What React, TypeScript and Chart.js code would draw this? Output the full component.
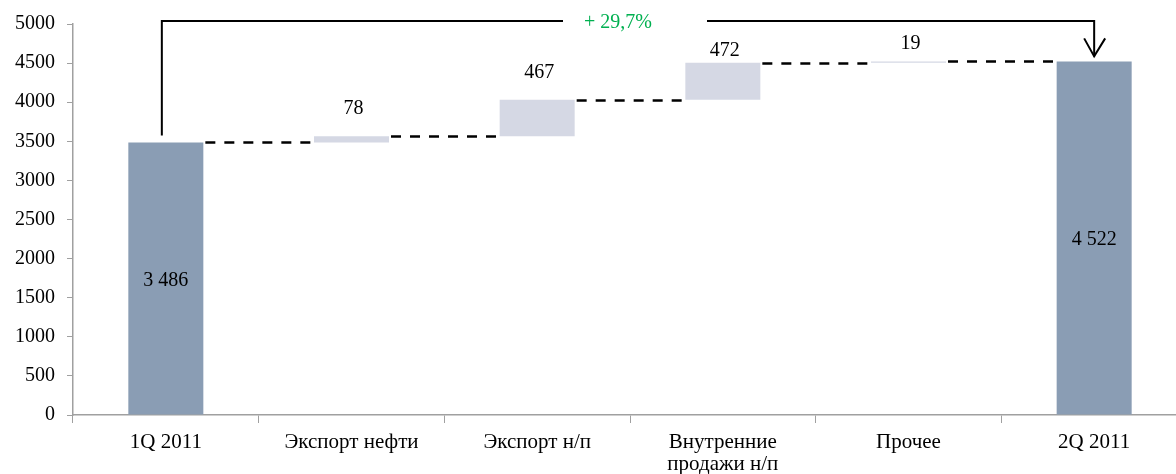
import React, { useEffect, useRef } from "react";
import { Chart, registerables } from "chart.js";

Chart.register(...registerables);

const categories: (string | string[])[] = [
  "1Q 2011",
  "Экспорт нефти",
  "Экспорт н/п",
  ["Внутренние", "продажи н/п"],
  "Прочее",
  "2Q 2011",
];
const values = [3486, 78, 467, 472, 19, 4522];
const isTotal = [true, false, false, false, false, true];
const valueLabels = ["3 486", "78", "467", "472", "19", "4 522"];
const growthLabel = "+ 29,7%";
const yMin = 0;
const yMax = 5000;
const yStep = 500;

const TOTAL_COLOR = "#8A9DB4";
const STEP_COLOR = "#D5D8E4";
const FONT = "'Liberation Serif', 'Times New Roman', serif";
const LABEL_GAPS = [0, 28, 27, 12, 18, 0];

function buildFloating() {
  const out: [number, number][] = [];
  let running = 0;
  values.forEach((v, i) => {
    if (isTotal[i]) {
      out.push([0, v]);
      running = v;
    } else {
      out.push([running, running + v]);
      running += v;
    }
  });
  return out;
}

const overlayPlugin = {
  id: "waterfallOverlay",
  afterDatasetsDraw(chart: any) {
    const ctx = chart.ctx;
    const meta = chart.getDatasetMeta(0);
    const y = chart.scales.y;
    const floating = buildFloating();
    const bars = meta.data;

    ctx.save();
    // dashed connectors
    ctx.strokeStyle = "#000";
    ctx.lineWidth = 2.5;
    ctx.setLineDash([10, 9]);
    for (let i = 0; i < bars.length - 1; i++) {
      const a = bars[i];
      const b = bars[i + 1];
      const level = floating[i][1];
      const py = Math.round(y.getPixelForValue(level)) + 0.5;
      ctx.beginPath();
      ctx.moveTo(a.x + a.width / 2 + 2, py);
      ctx.lineTo(b.x - b.width / 2, py);
      ctx.stroke();
    }
    ctx.setLineDash([]);

    // value labels
    ctx.fillStyle = "#000";
    ctx.font = `20px ${FONT}`;
    ctx.textAlign = "center";
    ctx.textBaseline = "middle";
    bars.forEach((bar: any, i: number) => {
      const [lo, hi] = floating[i];
      if (isTotal[i]) {
        const py = (y.getPixelForValue(lo) + y.getPixelForValue(hi)) / 2;
        ctx.fillText(valueLabels[i], bar.x, py + 2);
      } else {
        const py = y.getPixelForValue(hi) - LABEL_GAPS[i];
        ctx.fillText(valueLabels[i], bar.x + 2, py);
      }
    });

    // bracket with arrow
    const first = bars[0];
    const last = bars[bars.length - 1];
    const xL = first.x - 4;
    const xR = last.x;
    const yTop = Math.round(y.getPixelForValue(yMax)) - 3;
    const yLeftBottom = y.getPixelForValue(values[0]) - 7;
    const yTip = y.getPixelForValue(values[values.length - 1]) - 5;
    const tx = (xL + xR) / 2 - 10;

    ctx.strokeStyle = "#000";
    ctx.lineWidth = 2;
    ctx.beginPath();
    ctx.moveTo(xL, yLeftBottom);
    ctx.lineTo(xL, yTop);
    ctx.lineTo(tx - 55, yTop);
    ctx.moveTo(tx + 89, yTop);
    ctx.lineTo(xR, yTop);
    ctx.lineTo(xR, yTip);
    ctx.stroke();
    ctx.beginPath();
    ctx.moveTo(xR - 10, yTip - 18);
    ctx.lineTo(xR, yTip);
    ctx.lineTo(xR + 11, yTip - 18);
    ctx.stroke();

    ctx.fillStyle = "#00B050";
    ctx.font = `20px ${FONT}`;
    ctx.textAlign = "center";
    ctx.textBaseline = "middle";
    ctx.fillText(growthLabel, tx, yTop + 2);
    ctx.restore();
  },
};

export default function App() {
  const canvasRef = useRef<HTMLCanvasElement | null>(null);

  useEffect(() => {
    if (!canvasRef.current) return;
    const floating = buildFloating();
    const chart = new Chart(canvasRef.current, {
      type: "bar",
      data: {
        labels: categories as any,
        datasets: [
          {
            data: floating as any,
            backgroundColor: isTotal.map((t) => (t ? TOTAL_COLOR : STEP_COLOR)),
            borderWidth: 0,
            barPercentage: 0.404,
            categoryPercentage: 1,
          },
        ],
      },
      options: {
        responsive: false,
        animation: false,
        layout: { padding: { top: 20, right: 3, left: 0, bottom: 0 } },
        plugins: {
          legend: { display: false },
          tooltip: { enabled: false },
          title: { display: false },
        },
        scales: {
          x: {
            grid: {
              display: true,
              drawOnChartArea: false,
              offset: true,
              tickLength: 8,
              color: "#A0A0A0",
            },
            border: { display: true, color: "#A0A0A0", width: 1.5 },
            ticks: {
              color: "#000",
              font: { family: FONT, size: 21, lineHeight: 1.05 },
              padding: 8,
              maxRotation: 0,
              autoSkip: false,
            },
            afterFit(scale: any) {
              scale.height = 59;
            },
          },
          y: {
            min: yMin,
            max: yMax,
            grid: {
              display: true,
              drawOnChartArea: false,
              tickLength: 6,
              color: "#A0A0A0",
            },
            border: { display: true, color: "#A0A0A0", width: 1.5 },
            ticks: {
              stepSize: yStep,
              color: "#000",
              font: { family: FONT, size: 20 },
              padding: 12,
              callback: (v: any) => String(v),
            },
            afterFit(scale: any) {
              scale.width = 73;
            },
          },
        },
      },
      plugins: [overlayPlugin],
    });
    return () => chart.destroy();
  }, []);

  return (
    <div
      style={{
        position: "fixed",
        left: 0,
        top: 0,
        width: 1176,
        height: 474,
        overflow: "hidden",
        background: "#fff",
      }}
    >
      <canvas
        ref={canvasRef}
        width={1190}
        height={474}
        style={{ width: 1190, height: 474, display: "block" }}
      />
    </div>
  );
}
